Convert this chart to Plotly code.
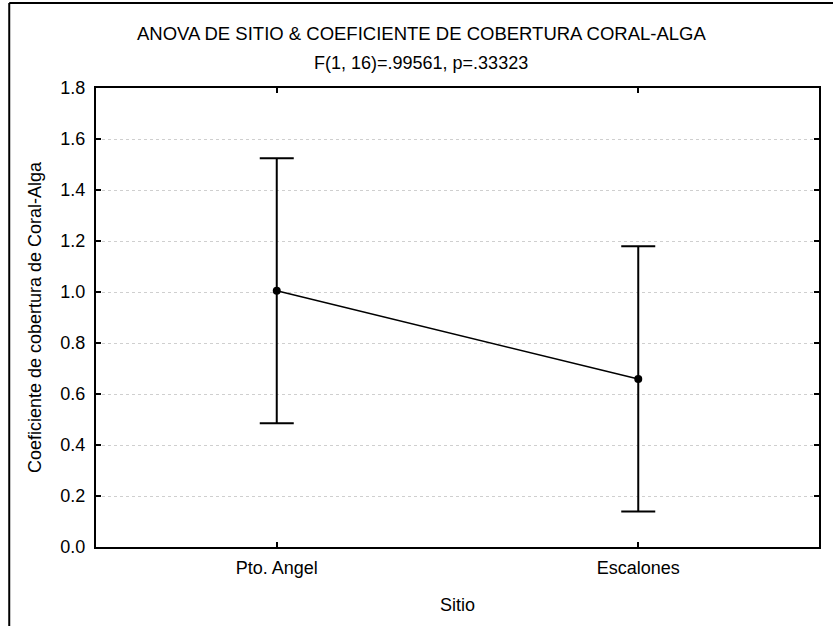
import plotly.graph_objects as go

sites = ["Pto. Angel", "Escalones"]
means = [1.005, 0.659]
errors = [0.520, 0.520]
y_ticks = [0.0, 0.2, 0.4, 0.6, 0.8, 1.0, 1.2, 1.4, 1.6, 1.8]
title_line1 = "ANOVA DE SITIO & COEFICIENTE DE COBERTURA CORAL-ALGA"
title_line2 = "F(1, 16)=.99561, p=.33323"

FONT = "Liberation Sans, Arial, sans-serif"
W, H = 833, 626
ML, MR, MT, MB = 96, 12, 88, 79
PW = W - ML - MR
PH = H - MT - MB

def px_x(p):
    return (p - ML) / PW

def px_y(p):
    return (H - MB - p) / PH

xpos = list(range(len(sites)))

fig = go.Figure()
fig.add_trace(go.Scatter(
    x=xpos, y=means,
    mode="lines+markers",
    line=dict(color="black", width=1.5),
    marker=dict(color="black", size=8),
    error_y=dict(type="data", array=errors, visible=True,
                 color="black", thickness=2, width=17),
    showlegend=False,
    cliponaxis=False,
))

fig.update_layout(
    width=W, height=H,
    margin=dict(l=ML, r=MR, t=MT, b=MB),
    paper_bgcolor="white", plot_bgcolor="white",
    font=dict(family=FONT, size=18, color="black"),
    xaxis=dict(
        range=[-0.5, 1.5],
        tickmode="array", tickvals=xpos, ticktext=sites,
        ticks="inside", ticklen=5, tickwidth=1.5, tickcolor="black",
        ticklabelstandoff=3,
        showline=True, linewidth=2, linecolor="black", mirror="ticks",
        showgrid=False, zeroline=False,
        title=dict(text="Sitio", standoff=22, font=dict(size=18)),
    ),
    yaxis=dict(
        range=[0, 1.8],
        tickmode="array", tickvals=y_ticks,
        ticktext=[f"{v:.1f}" for v in y_ticks],
        ticks="inside", ticklen=5, tickwidth=1.5, tickcolor="black",
        ticklabelstandoff=5,
        showline=True, linewidth=2, linecolor="black", mirror="ticks",
        showgrid=True, gridcolor="#cfcfcf", griddash="dot", gridwidth=1,
        zeroline=False,
        title=dict(text="Coeficiente de cobertura de Coral-Alga", standoff=14,
                   font=dict(size=18)),
    ),
    annotations=[
        dict(text=title_line1, xref="paper", yref="paper",
             x=px_x(422), y=px_y(33), xanchor="center", yanchor="middle",
             showarrow=False, font=dict(size=18.5)),
        dict(text=title_line2, xref="paper", yref="paper",
             x=px_x(422), y=px_y(63), xanchor="center", yanchor="middle",
             showarrow=False, font=dict(size=18)),
    ],
    shapes=[
        dict(type="line", xref="paper", yref="paper",
             x0=px_x(9), x1=px_x(9), y0=px_y(640), y1=px_y(3),
             line=dict(color="black", width=2)),
        dict(type="line", xref="paper", yref="paper",
             x0=px_x(9), x1=px_x(850), y0=px_y(3), y1=px_y(3),
             line=dict(color="black", width=2)),
    ],
)

fig.write_html("out.html")
